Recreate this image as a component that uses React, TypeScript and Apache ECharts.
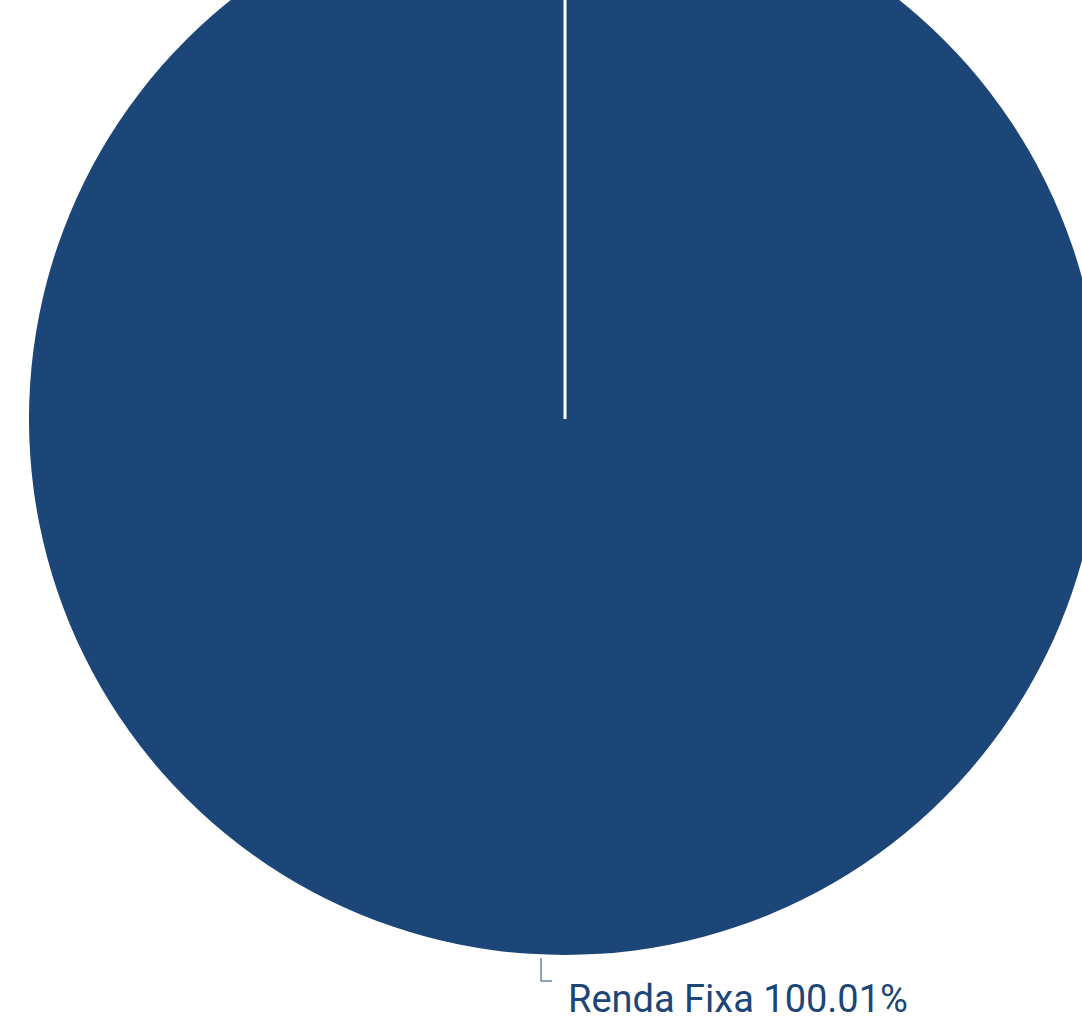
import React, { useEffect, useRef } from "react";
import * as echarts from "echarts";

const categories = ["Renda Fixa"];
const values = [100.01];
const colors = ["#1c4677"];

export default function App() {
  const ref = useRef<HTMLDivElement>(null);
  useEffect(() => {
    if (!ref.current) return;
    const chart = echarts.init(ref.current, null, { renderer: "svg" });
    const cx = 565;
    const cy = 419;
    const r = 536;
    chart.setOption({
      animation: false,
      series: [
        {
          type: "pie",
          center: [cx, cy],
          radius: r,
          startAngle: 90,
          clockwise: true,
          avoidLabelOverlap: false,
          data: categories.map((name, i) => ({
            name,
            value: values[i],
            itemStyle: { color: colors[i] },
          })),
          label: {
            show: true,
            position: "outside",
            formatter: (p: any) => `${p.name} ${values[p.dataIndex].toFixed(2)}%`,
            fontFamily: "Roboto",
            fontSize: 38,
            color: "#1c4677",
          },
          labelLine: {
            show: true,
            length: 20,
            length2: 12,
            lineStyle: { color: "#1c4677", width: 1 },
          },
          labelLayout: (params: any) => {
            const pts = params.labelLinePoints;
            if (!pts) return {};
            const p0 = pts[0];
            return {
              x: p0[0] + 3,
              y: p0[1] + 44,
              align: "left",
              verticalAlign: "middle",
              labelLinePoints: [
                [p0[0] - 24, p0[1] + 3],
                [p0[0] - 24, p0[1] + 26],
                [p0[0] - 13, p0[1] + 26],
              ],
            };
          },
        },
      ],
      graphic: [
        {
          type: "line",
          shape: { x1: cx, y1: cy - r, x2: cx, y2: cy },
          style: { stroke: "#ffffff", lineWidth: 3 },
          z: 100,
        },
      ],
    });
    return () => chart.dispose();
  }, []);
  return <div ref={ref} style={{ width: 1082, height: 1021, position: "absolute", left: 0, top: 0 }} />;
}
